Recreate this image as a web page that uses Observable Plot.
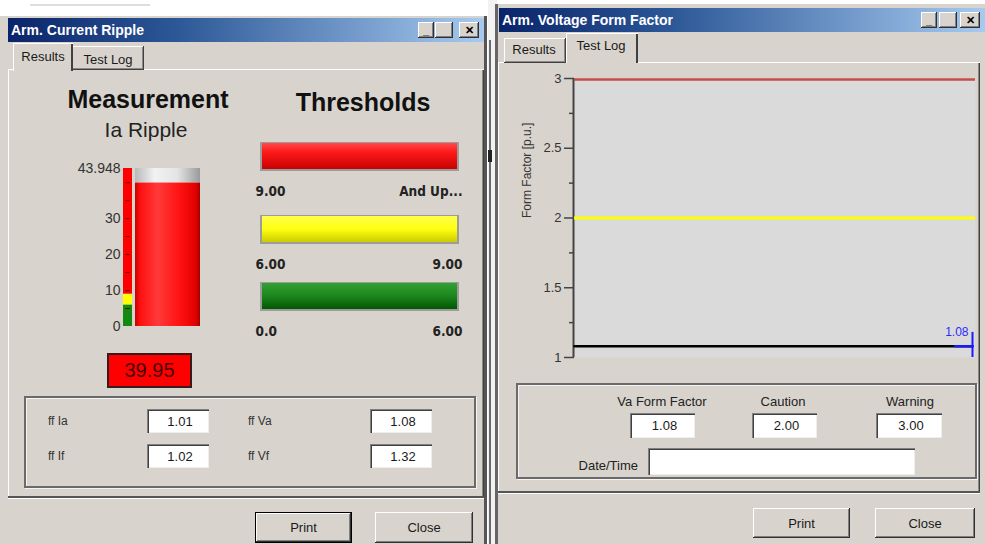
<!DOCTYPE html>
<html><head><meta charset="utf-8">
<script src="https://cdn.jsdelivr.net/npm/d3@7"></script>
<script src="https://cdn.jsdelivr.net/npm/@observablehq/plot@0.6"></script>
<style>
*{box-sizing:border-box}
body{margin:0;width:985px;height:544px;overflow:hidden;background:#fff;position:relative;font-family:"Liberation Sans",Arial,sans-serif;color:#1a1a1a}
.a{position:absolute}
.win{background:#d8d4cd}
.tb{background:linear-gradient(90deg,#0a246a 0%,#2c5796 35%,#a6caf0 100%);color:#fff;font-weight:bold;font-size:14px;padding-left:3px;display:flex;align-items:center;white-space:nowrap}
.raised{background:#d8d4cd;box-shadow:inset -1px -1px #404040,inset 1px 1px #fff,inset -2px -2px #8a8a8a}
.grp{border:2px solid #6a6a6a;box-shadow:inset 1px 1px #f4f4f4,1px 1px #f4f4f4}
.btn{background:#d8d4cd;box-shadow:inset -1px -1px #303030,inset 1px 1px #fff,inset -2px -2px #808080;font-size:13px;display:flex;align-items:center;justify-content:center}
.tbtn{background:#d8d4cd;box-shadow:inset -1px -1px #303030,inset 1px 1px #fff,inset -2px -2px #808080;font-size:11px;font-weight:bold;color:#000;display:flex;align-items:center;justify-content:center;line-height:1}
.inp{background:#fff;box-shadow:inset 1px 1px #808080,inset 2px 2px #404040,inset -1px -1px #eee;font-size:13px;display:flex;align-items:center;justify-content:center;padding-left:4px}
</style>
</head><body>
<script>
// ---------- data ----------
const gaugeMax = 43.948;
const gaugeTicks = [0, 10, 20, 30, 43.948];
const gaugeMinor = [5, 10, 15, 20, 25, 30, 35, 40];
const measurement = 39.95;
const zoneLo = [0, 6, 9];
const zoneHi = [6, 9, 43.948];
const zoneColors = ["#128a12", "#ffff00", "#ff0000"];
const thresholdNames = ["red", "yellow", "green"];
const thresholdLow = ["9.00", "6.00", "0.0"];
const thresholdHigh = ["And Up...", "9.00", "6.00"];
const ffLabels = ["ff Ia", "ff If", "ff Va", "ff Vf"];
const ffValues = [1.01, 1.02, 1.08, 1.32];
const formFactor = [1.08,1.08,1.08,1.08,1.08,1.08,1.08,1.08,1.08,1.08,1.08,1.08,1.08,1.08,1.08,1.08,1.08,1.08,1.08,1.08,1.08,1.08,1.08,1.08];
const cautionLevel = 2.00;
const warningLevel = 3.00;
const ffTicks = [1, 1.5, 2, 2.5, 3];
const ffMinor = [1.25, 1.75, 2.25, 2.75];
const fieldLabels = ["Va Form Factor", "Caution", "Warning"];

// ---------- helpers ----------
function el(x,y,w,h,cls,txt,style){const d=document.createElement('div');d.className='a '+(cls||'');Object.assign(d.style,{left:x+'px',top:y+'px'},w!=null?{width:w+'px'}:{},h!=null?{height:h+'px'}:{},style||{});if(txt!=null)d.textContent=txt;document.body.appendChild(d);return d;}
function text(t,x,cy,size,anchor,style){const w=320;let left=anchor==='middle'?x-w/2:anchor==='end'?x-w:x;return el(left,cy-size,w,size*2,'',t,Object.assign({fontSize:size+'px',lineHeight:(size*2)+'px',textAlign:anchor==='middle'?'center':anchor==='end'?'right':'left',whiteSpace:'nowrap'},style||{}));}
function place(svg,x,y){const d=el(x,y,null,null,'');d.appendChild(svg);return d;}
function grad(svg,id,stops,vertical){const defs=d3.select(svg).insert("defs",":first-child");const g=defs.append("linearGradient").attr("id",id).attr("x1",0).attr("y1",0).attr("x2",vertical?0:1).attr("y2",vertical?1:0);stops.forEach(([o,c])=>g.append("stop").attr("offset",o).attr("stop-color",c));}

// ---------- window chrome ----------
el(30,4,120,2,'',null,{background:'#ddd'});
el(0,16,487,528,'win',null,{boxShadow:'inset -3px 0 #555'});
el(8,18,476,24,'tb','Arm. Current Ripple');
el(418,22,16,16,'tbtn','_');el(435,22,18,16,'tbtn','');el(459,22,20,16,'tbtn','✕');
el(8,69,476,429,'',null,{boxShadow:'inset 1px 1px #fff,inset -1px -1px #404040,inset -2px -2px #8a8a8a'});
el(72,46,72,24,'raised',null);text('Test Log',108,60,13,'middle');
el(13,43,60,28,'',null,{background:'#d8d4cd',boxShadow:'inset 1px 1px #fff,inset -2px 0 #404040'});text('Results',43,57,13,'middle');
el(488,0,9,544,'',null,{background:'#f2f2f2'});
el(489,40,2,504,'',null,{background:'#6a6a6a'});
el(488,150,4,12,'',null,{background:'#222'});

el(495,4,490,540,'win',null,{boxShadow:'inset 3px 0 #666'});
el(499,8,486,24,'tb','Arm. Voltage Form Factor');
el(921,12,16,16,'tbtn','_');el(939,12,18,16,'tbtn','');el(960,12,20,16,'tbtn','✕');
el(498,62,482,431,'',null,{boxShadow:'inset 1px 1px #fff,inset -1px -1px #404040,inset -2px -2px #8a8a8a'});
el(504,38,62,25,'raised',null);text('Results',534,50,13,'middle');
el(566,33,72,30,'',null,{background:'#d8d4cd',boxShadow:'inset 1px 1px #fff,inset -2px 0 #404040'});text('Test Log',601,46,13,'middle');

// ---------- left: headings ----------
text('Measurement',148,99,25,'middle',{fontWeight:'bold',color:'#111'});
text('Ia Ripple',146,130,21,'middle',{color:'#222'});
text('Thresholds',363,102,25,'middle',{fontWeight:'bold',color:'#111'});

// ---------- gauge ----------
const zones = zoneLo.map((lo,i)=>({lo,hi:zoneHi[i],color:zoneColors[i]}));
const gauge = Plot.plot({
  width:150,height:175,marginLeft:63,marginRight:10,marginTop:8,marginBottom:9,
  style:{background:"transparent",fontFamily:"Liberation Sans Narrow, Liberation Sans, Arial",fontSize:"14px",color:"#333"},
  x:{domain:[0,1],axis:null},
  y:{domain:[0,gaugeMax]},
  marks:[
    Plot.axisY({ticks:gaugeTicks,tickSize:0,tickPadding:3,tickFormat:d=>d===gaugeMax?"43.948":String(d),fill:"#333"}),
    Plot.rectY(zones,{x1:0,x2:0.117,y1:"lo",y2:"hi",fill:"color"}),
    Plot.ruleY(gaugeMinor,{x1:0.03,x2:0.09,stroke:"#6a0000",strokeWidth:1}),
    Plot.rectY([measurement],{x1:0.156,x2:1,y1:0,y2:d=>d,fill:"url(#gRed)"}),
    Plot.rectY([measurement],{x1:0.156,x2:1,y1:d=>d,y2:gaugeMax,fill:"url(#gGrey)"})
  ]
});
grad(gauge,"gRed",[[0,"#c80000"],[0.08,"#ff1010"],[0.35,"#ff3a3a"],[0.7,"#ff1010"],[0.94,"#e00000"],[1,"#a00000"]],false);
grad(gauge,"gGrey",[[0,"#b8b8b8"],[0.3,"#f2f2f2"],[0.65,"#e4e4e4"],[1,"#9a9a9a"]],false);
place(gauge,60,160);

el(107,353,85,35,'',measurement.toFixed(2),{background:'#ff0000',border:'2px solid #3a1a1a',fontSize:'20px',color:'#4a0000',display:'flex',alignItems:'center',justifyContent:'center'});

// ---------- thresholds ----------
const thrTops = [142,215,282];
const thrGrads = [
  [[0,"#ff5050"],[0.35,"#ff1a1a"],[1,"#c40000"]],
  [[0,"#ffff50"],[0.5,"#ffff10"],[1,"#c8c800"]],
  [[0,"#34a234"],[0.5,"#1c861c"],[1,"#005400"]]
];
thresholdNames.forEach((name,i)=>{
  const t={lo:thresholdLow[i],hi:thresholdHigh[i]};
  const p = Plot.plot({
    width:213,height:66,marginLeft:8,marginRight:8,marginTop:0,marginBottom:38,
    style:{background:"transparent",fontFamily:"DejaVu Sans Condensed, DejaVu Sans, Arial",fontSize:"13.5px",fontWeight:"bold"},
    x:{domain:[0,1],axis:null},
    marks:[
      Plot.barX([t],{x1:0,x2:1,fill:`url(#thr${i})`,stroke:"#9c9c9c",strokeWidth:2}),
      Plot.text([t],{x:0,text:"lo",frameAnchor:"bottom",textAnchor:"start",dx:-6,dy:25,fill:"#222"}),
      Plot.text([t],{x:1,text:"hi",frameAnchor:"bottom",textAnchor:"end",dx:4,dy:25,fill:"#222"})
    ]
  });
  grad(p,`thr${i}`,thrGrads[i],true);
  place(p,253,thrTops[i]);
});

// ---------- left group ----------
el(24,396,452,92,'grp');
const ffPos=[[48,147,421],[48,147,456],[248,370,421],[248,370,456]];
ffLabels.forEach((l,i)=>{const [lx,bx,cy]=ffPos[i];text(l,lx,cy,12,'start',{color:'#333'});el(bx,cy-12,62,24,'inp',ffValues[i].toFixed(2));});
el(8,496,476,2,'',null,{background:'#555',boxShadow:'0 1px #fff'});
el(255,512,97,31,'btn','Print',{boxShadow:'inset 0 0 0 1px #000,inset -2px -2px #303030,inset 2px 2px #fff,inset -3px -3px #808080'});
el(375,512,98,31,'btn','Close');

// ---------- right chart ----------
const n = formFactor.length;
const chart = Plot.plot({
  width:480,height:310,marginLeft:69,marginRight:10,marginTop:18,marginBottom:13,
  style:{background:"transparent",fontFamily:"Liberation Sans, Arial",fontSize:"13px",color:"#333"},
  x:{domain:[0,n-1],axis:null,insetRight:3},
  y:{domain:[1,3]},
  marks:[
    Plot.frame({fill:"#dadada",stroke:null}),
    Plot.axisY({ticks:ffTicks,tickSize:10,tickPadding:3,tickFormat:d=>String(d),stroke:"#444",strokeWidth:1.5}),
    Plot.axisY({ticks:ffMinor,tickSize:5,text:null,stroke:"#444",strokeWidth:1.5}),
    Plot.ruleX([0],{stroke:"#444",strokeWidth:2,dx:-1}),
    Plot.text(["Form Factor [p.u.]"],{frameAnchor:"left",rotate:-90,dx:-47,fontSize:12,fill:"#333"}),
    Plot.ruleY([warningLevel],{stroke:"#c84a4a",strokeWidth:2.5,dy:1}),
    Plot.ruleY([cautionLevel],{stroke:"#ffff00",strokeWidth:3}),
    Plot.lineY(formFactor,{x:(d,i)=>i,y:d=>d,stroke:"#000",strokeWidth:2.5}),
    Plot.lineY(formFactor.slice(-2),{x:(d,i)=>n-2+i,y:d=>d,stroke:"#1a1aff",strokeWidth:2.5}),
    Plot.ruleX([n-1],{y1:1,y2:formFactor[n-1]+0.1,stroke:"#1a1aff",strokeWidth:2}),
    Plot.text([formFactor[n-1]],{x:n-1,y:d=>d,text:d=>d.toFixed(2),textAnchor:"end",dx:-4,dy:-14,fill:"#2a2aff",fontSize:12})
  ]
});
place(chart,505,60);

// ---------- right group ----------
el(516,383,461,96,'grp');
const fieldCx=[662,783,910];
const fieldBox=[[630,65],[752,65],[876,66]];
const fieldVals=[formFactor[n-1],cautionLevel,warningLevel];
fieldLabels.forEach((l,i)=>{text(l,fieldCx[i],402,13,'middle',{color:'#222'});el(fieldBox[i][0],413,fieldBox[i][1],25,'inp',fieldVals[i].toFixed(2));});
text('Date/Time',638,466,13,'end',{color:'#222'});
el(648,448,267,27,'inp','');
el(498,491,482,2,'',null,{background:'#555',boxShadow:'0 1px #fff'});
el(753,508,97,30,'btn','Print');
el(875,508,100,30,'btn','Close');
</script>
</body></html>
